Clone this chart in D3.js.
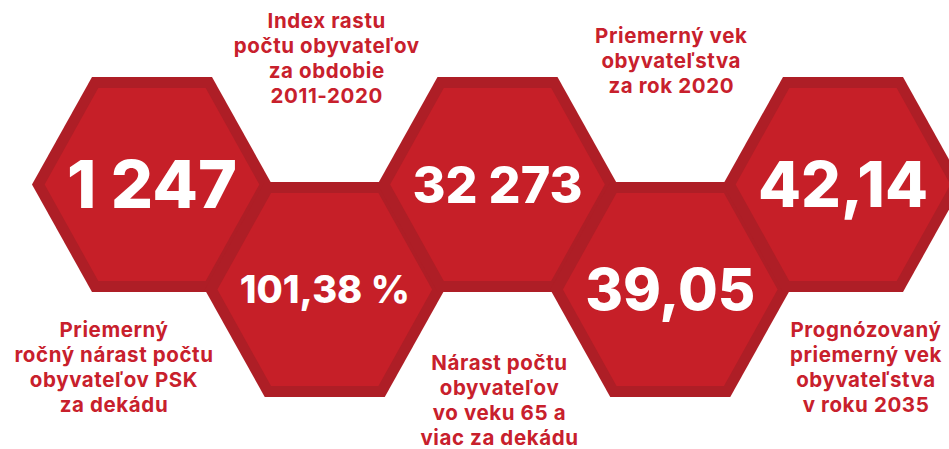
<!DOCTYPE html>
<html>
<head>
<meta charset="utf-8">
<script src="https://cdn.jsdelivr.net/npm/d3@7"></script>
<style>
  body { margin: 0; background: #fff; }
</style>
</head>
<body>
<div id="chart"></div>
<script>
// Data
const values = ['1 247', '101,38 %', '32 273', '39,05', '42,14']
const rows = ['top', 'bottom', 'top', 'bottom', 'top']
const labels = [
  ['Priemerný', 'ročný nárast počtu', 'obyvateľov PSK', 'za dekádu'],
  ['Index rastu', 'počtu obyvateľov', 'za obdobie', '2011-2020'],
  ['Nárast počtu', 'obyvateľov', 'vo veku 65 a', 'viac za dekádu'],
  ['Priemerný vek', 'obyvateľstva', 'za rok 2020'],
  ['Prognózovaný', 'priemerný vek', 'obyvateľstva', 'v roku 2035']
]

// Dimensions
const w = 949
const h = 449
const rx = 120
const ry = 107.5
const border = 11
const numberWidth = 170
const font = "Inter, 'Open Sans', sans-serif"
// label anchor offsets from hexagon centre (first line baseline)
const labelOffset = [[-38, 152], [2, -262], [2, 185], [1, -247], [23, 152]]
const lineH = 25.3

const fill = '#c61f28'
const dark = '#ae1e26'
const textRed = '#c8202c'

// Scales
const x = d3.scalePoint().domain(d3.range(values.length)).range([152, 843])
const y = d3.scalePoint().domain(['top', 'bottom']).range([184.5, 289.5])

const hex = (a, b) => d3.line()([
  [-a, 0], [-a / 2, -b], [a / 2, -b], [a, 0], [a / 2, b], [-a / 2, b]
]) + 'Z'

const data = values.map((v, i) => ({ value: v, row: rows[i], label: labels[i], i }))

const svg = d3.select('#chart').append('svg')
  .attr('width', w)
  .attr('height', h)

const g = svg.selectAll('g.hex')
  .data(data)
  .enter()
  .append('g')
  .attr('class', 'hex')
  .attr('transform', d => `translate(${x(d.i)}, ${y(d.row)})`)

// outer borders first so the inner fills sit on top of the overlaps
g.append('path')
  .attr('d', hex(rx, ry))
  .attr('fill', dark)

g.append('path')
  .attr('class', 'inner')
  .attr('d', hex(rx - border * 1.15, ry - border))
  .attr('fill', fill)

svg.selectAll('path.inner').raise()

const nums = svg.selectAll('text.num')
  .data(data)
  .enter()
  .append('text')
  .attr('class', 'num')
  .attr('text-anchor', 'middle')
  .attr('fill', '#fff')
  .attr('font-family', font)
  .attr('font-weight', 800)
  .attr('font-size', 100)
  .text(d => d.value)

nums.each(function (d) {
  const t = d3.select(this)
  const size = 100 * numberWidth / this.getComputedTextLength()
  t.attr('font-size', size)
    .attr('x', x(d.i))
    .attr('y', y(d.row) + size * 0.36)
})

const lab = svg.selectAll('text.lab')
  .data(data)
  .enter()
  .append('text')
  .attr('class', 'lab')
  .attr('text-anchor', 'middle')
  .attr('fill', textRed)
  .attr('font-family', font)
  .attr('font-weight', 700)
  .attr('font-size', 20.5)
  .attr('letter-spacing', 0.6)
  .attr('x', d => x(d.i) + labelOffset[d.i][0])
  .attr('y', d => y(d.row) + labelOffset[d.i][1])

lab.selectAll('tspan')
  .data(d => d.label.map(l => ({ l, d })))
  .enter()
  .append('tspan')
  .attr('x', e => x(e.d.i) + labelOffset[e.d.i][0])
  .attr('dy', (e, j) => j === 0 ? 0 : lineH)
  .text(e => e.l)
</script>
</body>
</html>
